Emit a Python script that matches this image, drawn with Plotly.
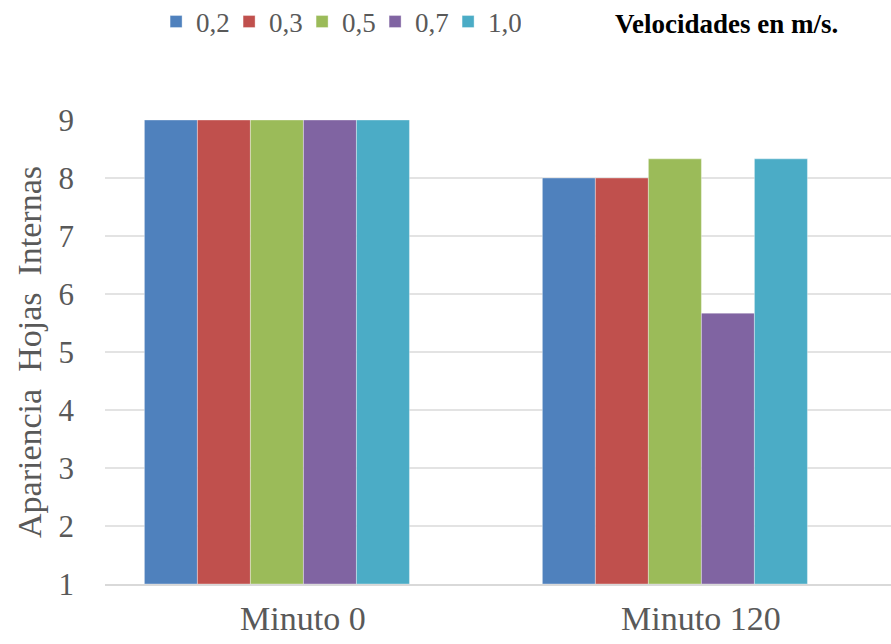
import plotly.graph_objects as go

categories = ["Minuto 0", "Minuto 120"]
series_names = ["0,2", "0,3", "0,5", "0,7", "1,0"]
series_values = [
    [9, 8],
    [9, 8],
    [9, 8.33],
    [9, 5.67],
    [9, 8.33],
]
colors = ["#4F81BD", "#C0504D", "#9BBB59", "#8064A2", "#4BACC6"]
y_ticks = [1, 2, 3, 4, 5, 6, 7, 8, 9]
base_value = 1

FONT = "Liberation Serif, Times New Roman, serif"

fig = go.Figure()
for name, vals, col in zip(series_names, series_values, colors):
    fig.add_trace(go.Bar(
        x=categories,
        y=[v - base_value for v in vals],
        base=base_value,
        name=name,
        marker=dict(color=col, line=dict(color="rgba(255,255,255,0.35)", width=1)),
        hovertext=[str(v) for v in vals],
    ))

fig.update_layout(
    width=891, height=644,
    margin=dict(l=105, r=0, t=120, b=60),
    paper_bgcolor="white", plot_bgcolor="white",
    barmode="group", bargap=0.334, bargroupgap=0,
    font=dict(family=FONT, color="#595959"),
    showlegend=True,
    legend=dict(
        orientation="h", x=0.065, xanchor="left",
        y=1 - 22 / 644, yanchor="middle", yref="container",
        font=dict(size=27, color="#595959"),
        itemwidth=30, tracegroupgap=0,
        entrywidth=28, entrywidthmode="pixels",
    ),
    xaxis=dict(
        type="category", range=[-0.432, 1.543], automargin=False,
        showgrid=False, showline=True, linecolor="#D9D9D9", linewidth=1.5,
        ticks="", tickfont=dict(size=34, color="#595959"),
        ticklabelshift=26, ticklabelstandoff=3,
    ),
    yaxis=dict(
        range=[1, 9], tickvals=y_ticks, automargin=False,
        showgrid=True, gridcolor="#E3E3E3", gridwidth=1.5,
        zeroline=False, showline=False, ticks="",
        tickfont=dict(size=31, color="#595959"), ticklabelstandoff=30,
        title=dict(text="Apariencia  Hojas  Internas", font=dict(size=34, color="#595959"), standoff=6),
    ),
)

fig.update_layout(annotations=[dict(
    text="<b>Velocidades en m/s.</b>", xref="paper", yref="paper",
    x=(840 - 105) / 786, xanchor="right", y=1 + (120 - 24) / 464, yanchor="middle",
    showarrow=False, font=dict(size=27, color="black", family=FONT),
)])

fig.write_html("out.html")
